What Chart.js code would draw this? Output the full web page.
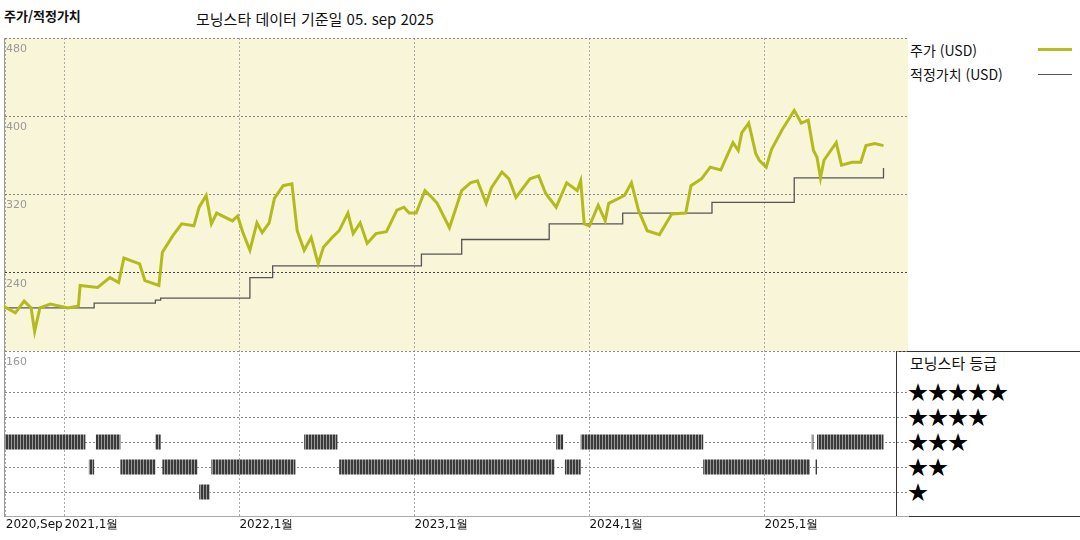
<!DOCTYPE html>
<html lang="ko">
<head>
<meta charset="UTF-8">
<title>주가/적정가치</title>
<style>
    * { box-sizing: border-box; margin: 0; padding: 0; }
    body { width: 1080px; height: 540px; background: #fff; font-family: "Noto Sans CJK KR", "DejaVu Sans", sans-serif; position: relative; overflow: hidden; }
    .txt { position: absolute; white-space: nowrap; color: #111; }
    #wrap { position: absolute; left: 0; top: 0; width: 1080px; height: 540px; }
    .line { position: absolute; background: #333; }
</style>
</head>
<body>
<div class="txt" style="left:4px;top:6px;font-size:13px;font-weight:bold;">주가/적정가치</div>
<div class="txt" style="left:196px;top:8px;font-size:15px;">모닝스타 데이터 기준일 05. sep 2025</div>
<div class="txt" style="left:910px;top:40px;font-size:14px;">주가 (USD)</div>
<div class="txt" style="left:910px;top:64px;font-size:14px;">적정가치 (USD)</div>
<div class="line" style="left:1038px;top:48px;width:34px;height:3px;background:#b5bd1f;"></div>
<div class="line" style="left:1038px;top:74px;width:34px;height:1px;background:#555;"></div>
<div class="txt" style="left:910px;top:352px;font-size:15px;">모닝스타 등급</div>
<div class="txt" style="left:908px;top:379px;font-size:20px;line-height:25px;color:#000;">★★★★★<br>★★★★<br>★★★<br>★★<br>★</div>
<div class="line" style="left:896px;top:38px;width:1px;height:479px;"></div>
<div class="line" style="left:896px;top:351px;width:184px;height:1px;"></div>
<div class="line" style="left:896px;top:516px;width:184px;height:1px;"></div>
<div id="wrap"><canvas id="c" width="1080" height="540"></canvas></div>

<script src="https://cdn.jsdelivr.net/npm/chart.js"></script>
<script>
    // 주가 (USD) - fractional year / value
    const priceYears = [2020.65,2020.72,2020.77,2020.81,2020.83,2020.86,2020.92,2021.02,2021.08,2021.09,2021.19,2021.26,2021.31,2021.34,2021.43,2021.46,2021.54,2021.56,2021.62,2021.67,2021.74,2021.77,2021.81,2021.84,2021.87,2021.96,2021.99,2022.02,2022.06,2022.10,2022.13,2022.17,2022.20,2022.25,2022.30,2022.33,2022.37,2022.41,2022.45,2022.48,2022.53,2022.57,2022.62,2022.65,2022.69,2022.73,2022.78,2022.84,2022.90,2022.94,2022.97,2023.01,2023.06,2023.10,2023.13,2023.20,2023.27,2023.32,2023.36,2023.41,2023.44,2023.50,2023.54,2023.58,2023.66,2023.71,2023.75,2023.81,2023.87,2023.93,2023.95,2023.97,2024.00,2024.05,2024.09,2024.11,2024.20,2024.24,2024.28,2024.33,2024.40,2024.47,2024.55,2024.58,2024.64,2024.69,2024.75,2024.82,2024.85,2024.87,2024.91,2024.95,2024.97,2025.01,2025.04,2025.10,2025.17,2025.21,2025.25,2025.28,2025.30,2025.32,2025.34,2025.41,2025.44,2025.50,2025.55,2025.58,2025.63,2025.68];
    const priceValues = [206,199,211,204,180,204,208,204,206,227,225,235,230,255,249,232,227,261,278,290,288,307,319,290,301,293,298,281,263,291,281,291,316,329,331,283,263,276,249,266,276,283,301,280,291,270,280,282,304,307,301,301,324,317,311,286,324,332,334,311,327,343,336,317,336,339,321,307,332,324,334,290,288,309,293,311,319,332,304,283,279,300,301,329,336,348,345,373,365,383,393,362,355,348,366,386,406,393,396,365,358,337,355,373,350,353,353,370,372,370];

    // 적정가치 (USD) - step changes
    const fairYears = [2020.66,2021.17,2021.52,2021.55,2022.06,2022.19,2023.04,2023.27,2023.77,2024.19,2024.70,2025.17,2025.67,2025.68];
    const fairValues = [204,209,212,214,235,247,259,274,290,301,312,337,337,347];

    // 모닝스타 등급 - [start, end] periods
    const star3 = [[2020.66,2021.12],[2021.18,2021.32],[2021.52,2021.55],[2022.37,2022.56],[2023.81,2023.85],[2023.95,2024.65],[2025.27,2025.28],[2025.30,2025.68]];
    const star2 = [[2021.14,2021.17],[2021.32,2021.52],[2021.56,2021.76],[2021.84,2022.32],[2022.57,2023.80],[2023.86,2023.95],[2024.65,2025.26],[2025.29,2025.30]];
    const star1 = [[2021.77,2021.83]];

    const xTicks = [2020.665, 2021, 2022, 2023, 2024, 2025];
    const xTickLabels = ["2020,Sep", "2021,1월", "2022,1월", "2023,1월", "2024,1월", "2025,1월"];
    const priceTicks = [160, 240, 320, 400, 480];

    function periodsToPoints(periods, stars) {
        const pts = [];
        periods.forEach(p => {
            pts.push({ x: p[0], y: stars }, { x: p[1], y: stars }, { x: p[1], y: null });
        });
        return pts;
    }

    // 바코드 무늬
    const pc = document.createElement("canvas");
    pc.width = 3; pc.height = 4;
    const px = pc.getContext("2d");
    px.fillStyle = "#3a3a3a"; px.fillRect(0, 0, 3, 4);
    px.fillStyle = "#9a9a9a"; px.fillRect(2, 0, 1, 4);
    const ctx = document.getElementById("c").getContext("2d");
    const barcode = ctx.createPattern(pc, "repeat");

    const bgPlugin = {
        id: "bg",
        beforeDraw(chart) {
            const x = chart.scales.x, y = chart.scales.y;
            chart.ctx.save();
            chart.ctx.fillStyle = "#f9f5d9";
            chart.ctx.fillRect(x.left, y.top, x.right - x.left, y.bottom - y.top);
            chart.ctx.restore();
        }
    };

    const ratingLine = (periods, stars) => ({
        type: "line", yAxisID: "y2", data: periodsToPoints(periods, stars),
        borderColor: barcode, borderWidth: 15, borderCapStyle: "butt",
        pointRadius: 0, spanGaps: false
    });

    new Chart(ctx, {
        type: "line",
        data: {
            datasets: [
                { data: priceYears.map((x, i) => ({ x, y: priceValues[i] })), borderColor: "#b3bb1c", borderWidth: 3, pointRadius: 0, tension: 0, yAxisID: "y" },
                { data: fairYears.map((x, i) => ({ x, y: fairValues[i] })), borderColor: "#555", borderWidth: 1.3, pointRadius: 0, stepped: "before", yAxisID: "y" },
                ratingLine(star3, 3), ratingLine(star2, 2), ratingLine(star1, 1)
            ]
        },
        options: {
            responsive: false, animation: false,
            layout: { padding: { left: 4, right: 172, top: 38, bottom: 4 } },
            plugins: { legend: { display: false }, tooltip: { enabled: false } },
            scales: {
                x: {
                    type: "linear", min: 2020.655, max: 2025.82,
                    afterBuildTicks: s => { s.ticks = xTicks.map(v => ({ value: v })); },
                    afterFit: s => { s.height = 20; },
                    ticks: { callback: (v, i) => xTickLabels[i], color: "#111", font: { size: 12, family: "DejaVu Sans" }, maxRotation: 0, autoSkip: false, padding: 2, align: "start" },
                    grid: { color: "#aaa", drawTicks: false },
                    border: { color: "#aaa", dash: [2, 2] }
                },
                y2: {
                    min: 0.04, max: 6.64, stack: "s", stackWeight: 165, position: "left", offset: false,
                    afterBuildTicks: s => { s.ticks = [1, 2, 3, 4, 5].map(v => ({ value: v })); },
                    afterFit: s => { s.width = 0; },
                    ticks: { display: false },
                    grid: { color: "#888", drawTicks: false },
                    border: { color: "#999", dash: [2, 2] }
                },
                y: {
                    min: 160, max: 480, stack: "s", stackWeight: 313, position: "left",
                    afterBuildTicks: s => { s.ticks = priceTicks.map(v => ({ value: v })); },
                    afterFit: s => { s.width = 0; },
                    ticks: { mirror: true, labelOffset: 11, padding: 2, color: "#999", font: { size: 11, family: "DejaVu Sans" } },
                    grid: { color: (c) => c.tick && c.tick.value === 240 ? "#444" : "#888", drawTicks: false },
                    border: { color: "#999", dash: [2, 2] }
                }
            }
        },
        plugins: [bgPlugin]
    });
</script>
</body>
</html>
